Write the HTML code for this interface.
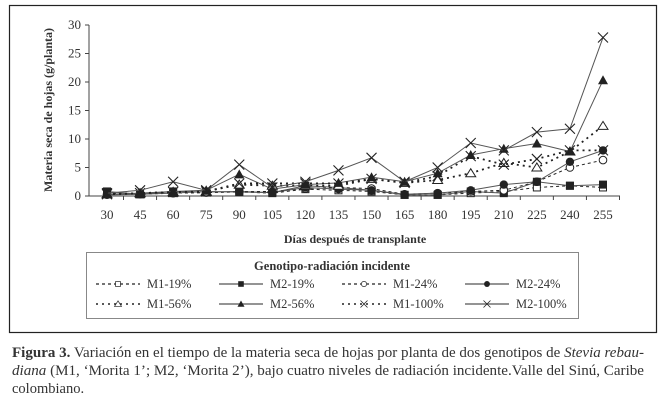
<!DOCTYPE html>
<html><head><meta charset="utf-8"><style>
body{margin:0;width:665px;height:403px;background:#fff;font-family:"Liberation Serif",serif;overflow:hidden}
</style></head><body>
<svg width="665" height="403" style="position:absolute;left:0;top:0">
<rect x="9.5" y="5.5" width="647" height="327" fill="none" stroke="#222" stroke-width="1.2"/>
<g id="plot"></g>
<text x="52" y="110" transform="rotate(-90 52 110)" text-anchor="middle" font-weight="bold" font-size="12" fill="#333">Materia seca de hojas (g/planta)</text>
<text x="355" y="243" text-anchor="middle" font-weight="bold" font-size="12" fill="#333">Días después de transplante</text>
<rect x="86.5" y="252.5" width="492" height="66" fill="none" stroke="#888"/>
<text x="332" y="270" text-anchor="middle" font-weight="bold" font-size="12.5" fill="#333">Genotipo-radiación incidente</text>
<g id="legend"></g>
<text font-size="14.5" fill="#333">
<tspan x="12" y="357" textLength="632" lengthAdjust="spacingAndGlyphs"><tspan font-weight="bold">Figura 3.</tspan> Variación en el tiempo de la materia seca de hojas por planta de dos genotipos de <tspan font-style="italic">Stevia rebau-</tspan></tspan>
<tspan x="12" y="375" textLength="632" lengthAdjust="spacingAndGlyphs"><tspan font-style="italic">diana</tspan> (M1, ‘Morita 1’; M2, ‘Morita 2’), bajo cuatro niveles de radiación incidente.Valle del Sinú, Caribe</tspan>
<tspan x="12" y="393">colombiano.</tspan></text>
</svg>
<script>
const days=[30,45,60,75,90,105,120,135,150,165,180,195,210,225,240,255];
const yTicks=[0,5,10,15,20,25,30];
const m1_19=[0.5,0.3,0.5,0.6,0.7,0.5,1.2,1,0.8,0.2,0.2,0.5,0.8,1.5,1.8,1.5];
const m2_19=[0.8,0.3,0.8,0.7,0.8,0.6,1.8,1.5,1,0.2,0.2,0.8,0.5,2.5,1.8,2];
const m1_24=[0.3,0.5,0.5,0.6,0.8,0.8,1.3,1.5,1.3,0.3,0.5,0.8,1,2.5,5,6.3];
const m2_24=[0.2,0.3,0.5,0.8,0.7,0.6,1.5,1.2,1,0.3,0.5,1,2,2.5,6,8];
const m1_56=[0.3,0.5,0.7,0.8,2,1.8,1.8,1.8,3,2.3,2.8,4,5.8,5,7.8,12.3];
const m2_56=[0.3,0.5,0.8,1,3.8,1.2,2,2.3,3.3,2.5,4,7.2,8.3,9.2,7.8,20.3];
const m1_100=[0.3,0.5,0.7,0.8,2.2,2.2,2.2,2.2,3,2.3,3.5,7,5.5,6.5,8,8];
const m2_100=[0.5,1,2.5,1,5.5,1.5,2.5,4.5,6.7,2.5,5,9.3,8,11.2,11.8,27.8];
const seriesNames=["M1-19%","M2-19%","M1-24%","M2-24%","M1-56%","M2-56%","M1-100%","M2-100%"];
const seriesData=[m1_19,m2_19,m1_24,m2_24,m1_56,m2_56,m1_100,m2_100];
const markers=["sq-o","sq-f","ci-o","ci-f","tr-o","tr-f","x","x"];
const dashes=["3,3","none","3,3","none","2,4","none","2,4","none"];

const NS="http://www.w3.org/2000/svg";
const x0=89,x1=620,yb=196,yt=25;
const xs=i=>107+i*(603-107)/(days.length-1);
const ys=v=>yb-(v/30)*(yb-yt);
function mk(t,a,p){const e=document.createElementNS(NS,t);for(const k in a)e.setAttribute(k,a[k]);p.appendChild(e);return e;}
const plot=document.getElementById('plot');
let ax=mk('line',{x1:x0,y1:yt,x2:x0,y2:yb,stroke:'#444'},plot);


let bx=mk('line',{x1:x0,y1:yb,x2:x1,y2:yb,stroke:'#444'},plot);


yTicks.forEach(v=>{mk('line',{x1:x0-4,y1:ys(v),x2:x0,y2:ys(v),stroke:'#444'},plot);
 const t=mk('text',{x:x0-8,y:ys(v)+4,'text-anchor':'end','font-size':13,fill:'#333'},plot);t.textContent=v;
 
 });
days.forEach((d,i)=>{const x=xs(i);mk('line',{x1:x+16.5,y1:yb,x2:x+16.5,y2:yb+4,stroke:'#444'},plot);
 const t=mk('text',{x:x,y:219,'text-anchor':'middle','font-size':13,fill:'#333'},plot);t.textContent=d;
 
 });
function marker(type,x,y,p){
 const c='#222';
 if(type=='sq-o')return mk('rect',{x:x-3.5,y:y-3.5,width:7,height:7,fill:'#fff',stroke:c},p);
 if(type=='sq-f')return mk('rect',{x:x-4,y:y-4,width:8,height:8,fill:c},p);
 if(type=='ci-o')return mk('circle',{cx:x,cy:y,r:3.8,fill:'#fff',stroke:c},p);
 if(type=='ci-f')return mk('circle',{cx:x,cy:y,r:4.2,fill:c},p);
 if(type=='tr-o')return mk('path',{d:`M${x},${y-4.5}L${x+5},${y+3.5}L${x-5},${y+3.5}Z`,fill:'#fff',stroke:c},p);
 if(type=='tr-f')return mk('path',{d:`M${x},${y-5}L${x+5},${y+4}L${x-5},${y+4}Z`,fill:c},p);
 return mk('path',{d:`M${x-5},${y-5}L${x+5},${y+5}M${x-5},${y+5}L${x+5},${y-5}`,stroke:c,'stroke-width':1.1},p);
}
seriesData.forEach((arr,s)=>{
 const g=mk('g',{},plot);
 
 
 const pts=arr.map((v,i)=>xs(i)+','+ys(v)).join(' ');
 const d=dashes[s]!='none';
 mk('polyline',{points:pts,fill:'none',stroke:d?'#222':'#555','stroke-width':s>=4&&d?1.8:1,'stroke-dasharray':dashes[s]},g);
 arr.forEach((v,i)=>{const m=marker(markers[s],xs(i),ys(v),g);
  
  });
});
const leg=document.getElementById('legend');
seriesNames.forEach((n,s)=>{
 const col=s%4,row=Math.floor(s/4);
 const lx=96+col*123,ly=288+row*20;
 const g=mk('g',{},leg);
 
 
 const d=dashes[s]!='none';
 mk('line',{x1:lx,y1:ly-4,x2:lx+44,y2:ly-4,stroke:d?'#222':'#555','stroke-width':s>=4&&d?1.6:1.2,'stroke-dasharray':dashes[s]},g);
 const m=marker(markers[s],lx+22,ly-4,g);m.setAttribute('transform',`translate(${(lx+22)*0.3},${(ly-4)*0.3}) scale(0.7)`);
 const t=mk('text',{x:lx+51,y:ly,'font-size':12.5,fill:'#333'},g);t.textContent=n;
});
</script>
</body></html>
